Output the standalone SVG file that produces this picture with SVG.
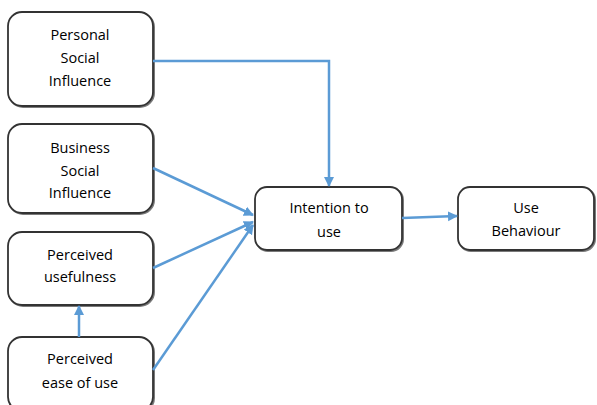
<svg xmlns="http://www.w3.org/2000/svg" width="597" height="405" viewBox="0 0 597 405">
  <defs>
    <marker id="arr" markerWidth="12" markerHeight="12" refX="9" refY="6" orient="auto" markerUnits="userSpaceOnUse">
      <path d="M0,1 L10,6 L0,11 Z" fill="#5b9bd5"/>
    </marker>
  </defs>
  <style>
    .box { fill: #ffffff; stroke: #333333; stroke-width: 1.8; }
    .shadow { fill: none; stroke: #7a7a7a; stroke-width: 2; }
    .lbl { font-family: "Open Sans", "Liberation Sans", sans-serif; font-size: 14.5px; fill: #000000; text-anchor: middle; }
    .conn { fill: none; stroke: #5b9bd5; stroke-width: 2.5; }
  </style>
  <rect width="597" height="405" fill="#ffffff"/>

  <g id="personal-social-influence">
    <rect class="shadow" x="9" y="13" width="145" height="94" rx="14"/>
    <rect class="box" x="8" y="12" width="145" height="94" rx="14"/>
    <text class="lbl" x="80" y="40">Personal</text>
    <text class="lbl" x="80" y="63">Social</text>
    <text class="lbl" x="80" y="86">Influence</text>
  </g>

  <g id="business-social-influence">
    <rect class="shadow" x="9" y="125" width="145" height="89" rx="14"/>
    <rect class="box" x="8" y="124" width="145" height="89" rx="14"/>
    <text class="lbl" x="80" y="153">Business</text>
    <text class="lbl" x="80" y="176">Social</text>
    <text class="lbl" x="80" y="198">Influence</text>
  </g>

  <g id="perceived-usefulness">
    <rect class="shadow" x="9" y="233" width="145" height="73" rx="14"/>
    <rect class="box" x="8" y="232" width="145" height="73" rx="14"/>
    <text class="lbl" x="80" y="260">Perceived</text>
    <text class="lbl" x="80" y="282">usefulness</text>
  </g>

  <g id="perceived-ease-of-use">
    <rect class="shadow" x="9" y="338" width="145" height="74" rx="14"/>
    <rect class="box" x="8" y="337" width="145" height="74" rx="14"/>
    <text class="lbl" x="80" y="364">Perceived</text>
    <text class="lbl" x="80" y="388">ease of use</text>
  </g>

  <g id="intention-to-use">
    <rect class="shadow" x="256" y="188" width="147" height="63" rx="12"/>
    <rect class="box" x="255" y="187" width="147" height="63" rx="12"/>
    <text class="lbl" x="329" y="213">Intention to</text>
    <text class="lbl" x="329" y="237">use</text>
  </g>

  <g id="use-behaviour">
    <rect class="shadow" x="459" y="188" width="136" height="63" rx="12"/>
    <rect class="box" x="458" y="187" width="136" height="63" rx="12"/>
    <text class="lbl" x="526" y="213">Use</text>
    <text class="lbl" x="526" y="236">Behaviour</text>
  </g>

  <g id="connectors">
    <path class="conn" d="M153,61 H329 V186" marker-end="url(#arr)"/>
    <path class="conn" d="M153,168 L253,215" marker-end="url(#arr)"/>
    <path class="conn" d="M153,268 L253,222" marker-end="url(#arr)"/>
    <path class="conn" d="M153,370 L253,225" marker-end="url(#arr)"/>
    <path class="conn" d="M79,337 V306" marker-end="url(#arr)"/>
    <path class="conn" d="M402,218 L457,216" marker-end="url(#arr)"/>
  </g>
</svg>
